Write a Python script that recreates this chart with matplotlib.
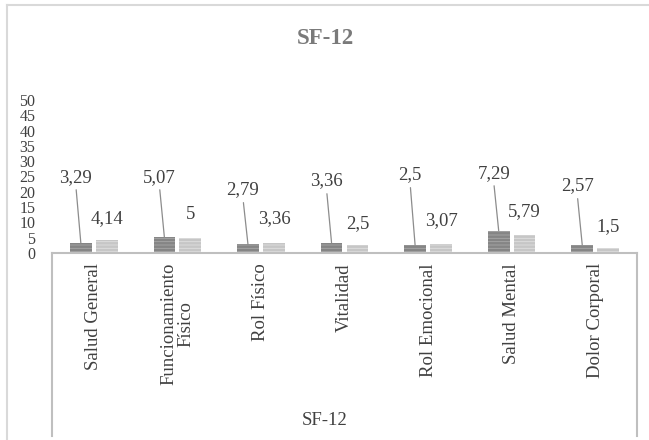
"""SF-12 bar chart: two grey striped series per dimension, value labels
lifted above the bars (dark series with leader lines)."""

import matplotlib
matplotlib.use("Agg")
import matplotlib.pyplot as plt
from matplotlib.lines import Line2D
import numpy as np

categories = ["Salud General", "Funcionamiento\nFísico", "Rol Físico", "Vitalidad",
              "Rol Emocional", "Salud Mental", "Dolor Corporal"]
serie_a = [3.29, 5.07, 2.79, 3.36, 2.5, 7.29, 2.57]
serie_b = [4.14, 5.0, 3.36, 2.5, 3.07, 5.79, 1.5]
labels_a = ["3,29", "5,07", "2,79", "3,36", "2,5", "7,29", "2,57"]
labels_b = ["4,14", "5", "3,36", "2,5", "3,07", "5,79", "1,5"]
# where the data labels were dragged to (data units)
label_y_a = [24.8, 24.8, 20.6, 23.5, 25.5, 26.1, 21.9]
label_y_b = [11.4, 12.7, 11.1, 9.5, 10.5, 13.4, 8.5]
yticks = [0, 5, 10, 15, 20, 25, 30, 35, 40, 45, 50]

plt.rcParams["font.family"] = ["Liberation Serif", "DejaVu Serif"]
plt.rcParams["hatch.linewidth"] = 0.6

W, H = 649, 440
FS = 13.5
TXT = "#404040"
fig = plt.figure(figsize=(W / 100, H / 100), dpi=100)
ax = fig.add_axes([52 / W, 1 - 253 / H, (637 - 52) / W, (253 - 100) / H])

x = np.arange(len(categories))
w, gap = 0.26, 0.05
xa = x - (w + gap) / 2
xb = x + (w + gap) / 2
plt.rcParams["hatch.color"] = "#b0b0b0"
ax.bar(xa, serie_a, w, color="#858585", hatch="-----", edgecolor="#a8a8a8", lw=0)
plt.rcParams["hatch.color"] = "#e6e6e6"
ax.bar(xb, serie_b, w, color="#c6c6c6", hatch="-----", edgecolor="#e0e0e0", lw=0)

for i in range(len(categories)):
    ax.annotate(labels_a[i], xy=(xa[i], serie_a[i]), xytext=(xa[i] - 0.06, label_y_a[i]),
                ha="center", va="center", fontsize=FS, color=TXT,
                arrowprops=dict(arrowstyle="-", color="#8c8c8c", lw=0.9,
                                relpos=(0.5, 0.0), shrinkA=1, shrinkB=0))
    ax.text(xb[i], label_y_b[i], labels_b[i], ha="center", va="center",
            fontsize=FS, color=TXT)

ax.set_xlim(-0.5, len(categories) - 0.5)
ax.set_ylim(0, 50)
ax.set_yticks(yticks)
ax.tick_params(axis="y", length=0, labelsize=11.5, labelcolor=TXT, pad=12)
ax.set_xticks([])
for side in ["left", "right", "bottom", "top"]:
    ax.spines[side].set_visible(False)

# category area boxed below the plot
col = "#bfbfbf"
x0, x1, ytop, ybot = 52 / W, 637 / W, 1 - 253 / H, 1 - 436 / H
fig.add_artist(Line2D([x0, x1], [ytop, ytop], color=col, lw=1.5))
fig.add_artist(Line2D([x0, x0], [ytop, ybot], color=col, lw=1.5))
fig.add_artist(Line2D([x1, x1], [ytop, ybot], color=col, lw=1.5))

for i, c in enumerate(categories):
    fig.text((52 + (i + 0.5) * (637 - 52) / len(categories)) / W, 1 - 263 / H, c,
             rotation=90, ha="center", va="top", fontsize=FS, color=TXT,
             multialignment="center", linespacing=0.95)

fig.text(325 / W, 1 - 420 / H, "SF-12", ha="center", va="center", fontsize=FS,
         color=TXT)
fig.text(325 / W, 1 - 38 / H, "SF-12", ha="center", va="center", fontsize=16.5,
         fontweight="bold", color="#7a7a7a")

# outer chart border
bcol = "#d9d9d9"
fig.add_artist(Line2D([7 / W, 7 / W], [0, 1 - 5 / H], color=bcol, lw=1.5))
fig.add_artist(Line2D([7 / W, 1], [1 - 5 / H, 1 - 5 / H], color=bcol, lw=1.5))

fig.savefig("out.png", dpi=100)
plt.close(fig)
